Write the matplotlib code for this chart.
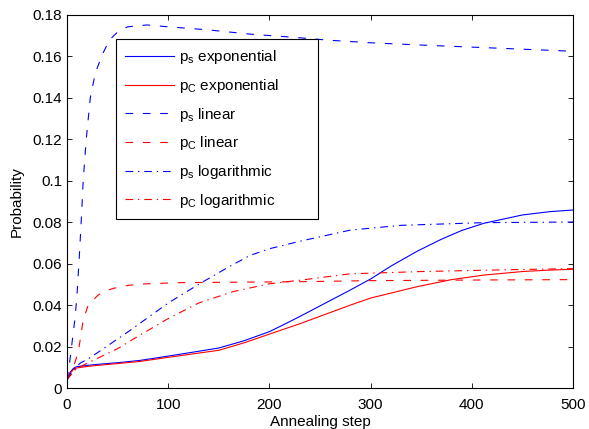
import numpy as np
import matplotlib
matplotlib.use("Agg")
import matplotlib.pyplot as plt

# Okunan veriler (grafikten tahmini)
x_ps_exp = [0, 3, 6, 8, 10, 20, 30, 50, 72, 100, 131, 150, 175, 200, 213, 230, 280, 300, 320, 346, 370, 390, 412,
            450, 477, 500]
ps_exp = [0.004, 0.0075, 0.0093, 0.0100, 0.0103, 0.0109, 0.0114, 0.0122, 0.0133, 0.0154, 0.0178, 0.0193, 0.0228,
          0.0272, 0.0303, 0.0345, 0.0473, 0.0526, 0.0588, 0.0660, 0.0718, 0.0760, 0.0795, 0.0835, 0.0851, 0.0859]

x_pc_exp = [0, 3, 6, 8, 10, 20, 30, 50, 72, 100, 150, 175, 200, 230, 280, 300, 346, 380, 412, 450, 477, 500]
pc_exp = [0.004, 0.0068, 0.0088, 0.0094, 0.0097, 0.0104, 0.0109, 0.0118, 0.0128, 0.0148, 0.0182, 0.0218, 0.0260,
          0.0310, 0.0400, 0.0434, 0.0489, 0.0523, 0.0545, 0.0562, 0.0569, 0.0573]

x_ps_lin = [0, 2, 4, 6, 8, 10, 12, 14, 16, 19, 23, 28, 35, 42, 50, 60, 79, 100, 140, 180, 225, 260, 300, 350, 400,
            450, 500]
ps_lin = [0.004, 0.010, 0.018, 0.026, 0.034, 0.046, 0.062, 0.080, 0.100, 0.120, 0.140, 0.152, 0.161, 0.168, 0.1718,
          0.1743, 0.1752, 0.1743, 0.1728, 0.1708, 0.1692, 0.1678, 0.1666, 0.1655, 0.1645, 0.1635, 0.1625]

x_pc_lin = [0, 3, 6, 9, 12, 16, 21, 26, 30, 36, 46, 60, 75, 108, 150, 230, 300, 400, 500]
pc_lin = [0.004, 0.007, 0.010, 0.014, 0.020, 0.0328, 0.040, 0.0425, 0.0445, 0.0465, 0.0481, 0.0495, 0.0502, 0.0508,
          0.0510, 0.0513, 0.0518, 0.0521, 0.0523]

x_ps_log = [0, 5, 10, 13, 20, 30, 45, 60, 80, 100, 130, 160, 181, 200, 230, 280, 330, 412, 500]
ps_log = [0.004, 0.008, 0.0105, 0.012, 0.0138, 0.0170, 0.022, 0.027, 0.034, 0.041, 0.050, 0.0585, 0.064, 0.0672,
          0.0708, 0.0762, 0.0785, 0.0798, 0.0801]

x_pc_log = [0, 5, 10, 16, 33, 50, 72, 100, 130, 164, 200, 230, 280, 350, 400, 450, 500]
pc_log = [0.004, 0.007, 0.0095, 0.011, 0.0150, 0.0190, 0.0255, 0.0335, 0.0410, 0.0465, 0.0503, 0.0520, 0.0551,
          0.0562, 0.0567, 0.0572, 0.0576]

labels = [r"$\mathregular{p_s}$ exponential", r"$\mathregular{p_C}$ exponential",
          r"$\mathregular{p_s}$ linear", r"$\mathregular{p_C}$ linear",
          r"$\mathregular{p_s}$ logarithmic", r"$\mathregular{p_C}$ logarithmic"]

x_ticks = [0, 100, 200, 300, 400, 500]
y_ticks = [0, 0.02, 0.04, 0.06, 0.08, 0.1, 0.12, 0.14, 0.16, 0.18]
y_tick_labels = ["0", "0.02", "0.04", "0.06", "0.08", "0.1", "0.12", "0.14", "0.16", "0.18"]

# Stil
fs = 11
plt.rcParams["font.family"] = ["Liberation Sans", "DejaVu Sans"]
plt.rcParams["font.size"] = fs
plt.rcParams["mathtext.default"] = "regular"
plt.rcParams["lines.scale_dashes"] = False

fig = plt.figure(figsize=(5.89, 4.29), dpi=100)
ax = fig.add_axes([67 / 589, 41 / 429, 506 / 589, 373 / 429])

lw = 0.8
dash = (5.5, 7)
dashdot = (5.5, 3.5, 1, 3.5)

ax.plot(x_ps_exp, ps_exp, color="blue", lw=lw, label=labels[0])
ax.plot(x_pc_exp, pc_exp, color="red", lw=lw, label=labels[1])
ax.plot(x_ps_lin, ps_lin, color="blue", lw=lw, dashes=dash, label=labels[2])
ax.plot(x_pc_lin, pc_lin, color="red", lw=lw, dashes=dash, label=labels[3])
ax.plot(x_ps_log, ps_log, color="blue", lw=lw, dashes=dashdot, label=labels[4])
ax.plot(x_pc_log, pc_log, color="red", lw=lw, dashes=dashdot, label=labels[5])

ax.set_xlim(0, 500)
ax.set_ylim(0, 0.18)
ax.set_xticks(x_ticks)
ax.set_yticks(y_ticks)
ax.set_yticklabels(y_tick_labels)
ax.tick_params(direction="in", length=3.5, width=0.6, top=True, right=True, labelsize=fs)
ax.tick_params(axis="y", pad=3.5)
ax.tick_params(axis="x", pad=7.5)
for s in ax.spines.values():
    s.set_linewidth(0.8)

ax.set_xlabel("Annealing step", fontsize=fs, labelpad=2)
ax.set_ylabel("Probability", fontsize=fs, labelpad=6)

# legend kutusu: sol 116px, sag 318px, ust 39px
leg = ax.legend(loc="upper left", bbox_to_anchor=(49 / 506, 0, 202 / 506, 349 / 373), mode="expand",
                borderaxespad=0, fancybox=False, frameon=True, edgecolor="black", framealpha=1,
                handlelength=3.2, handletextpad=0.35, labelspacing=0.7, borderpad=0.6,
                fontsize=fs)
leg.get_frame().set_linewidth(0.8)

fig.savefig("out.png", dpi=100)
